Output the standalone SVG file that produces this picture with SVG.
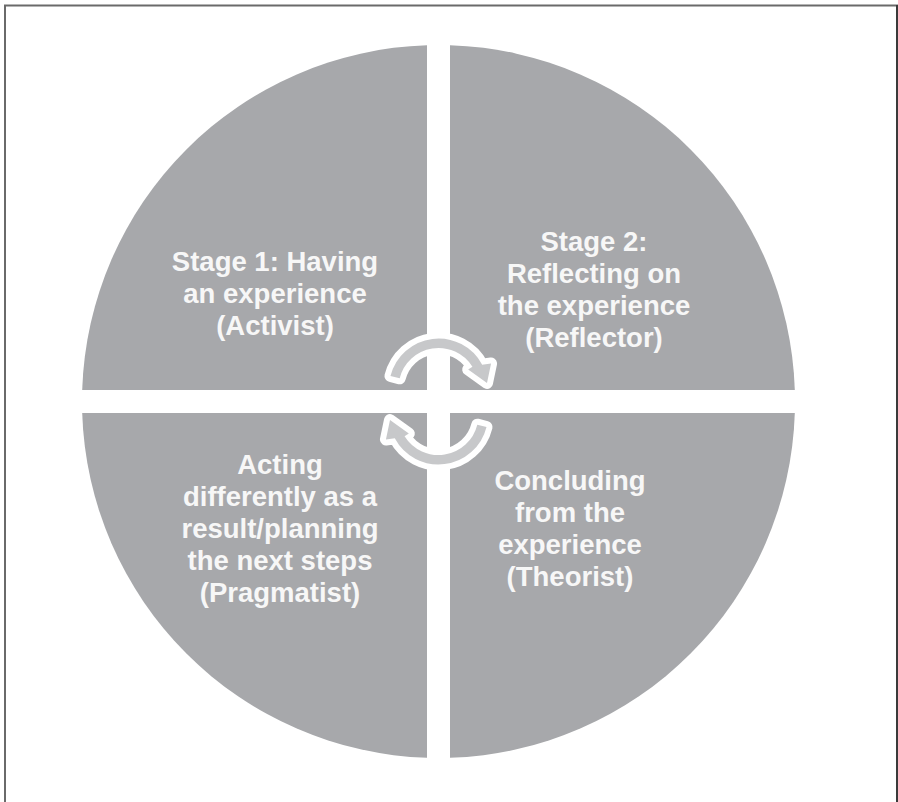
<svg xmlns="http://www.w3.org/2000/svg" width="898" height="802" viewBox="0 0 898 802">
  <style>
    .q { fill: #a7a8ab; }
    .t { font-family: "Liberation Sans", Arial, sans-serif; font-weight: bold; font-size: 27.5px; fill: #f7f7f7; text-anchor: middle; }
    .arr { fill: #c7c8ca; stroke: #ffffff; stroke-width: 12; stroke-linejoin: round; paint-order: stroke; }
  </style>
  <defs>
    <path id="cycleArrow" d="M 390.47,376.03 A 49.5 49.5 0 0 1 482.2,364.76 L 491.07,363.49 L 487,383 L 468.18,369.45 L 472.42,366.8 A 40 40 0 0 0 399.69,378.32 Z"/>
  </defs>
  <rect x="0" y="0" width="898" height="802" fill="#ffffff"/>
  <g id="frame">
    <line x1="4" y1="5.5" x2="898" y2="5.5" stroke="#6a6a6a" stroke-width="2"/>
    <line x1="5" y1="5" x2="5" y2="802" stroke="#6a6a6a" stroke-width="2"/>
    <line x1="897" y1="5" x2="897" y2="802" stroke="#3a3a3a" stroke-width="2"/>
  </g>
  <g id="stage1">
    <path class="q" d="M427,390 L82.19,390 A356.5,356.5 0 0 1 427,45.19 Z"/>
    <text class="t" x="275" y="271">Stage 1: Having</text>
    <text class="t" x="275" y="303">an experience</text>
    <text class="t" x="275" y="335">(Activist)</text>
  </g>
  <g id="stage2">
    <path class="q" d="M450,390 L450,45.19 A356.5,356.5 0 0 1 794.81,390 Z"/>
    <text class="t" x="594" y="251.25">Stage 2:</text>
    <text class="t" x="594" y="283.25">Reflecting on</text>
    <text class="t" x="594" y="315.25">the experience</text>
    <text class="t" x="594" y="347.25">(Reflector)</text>
  </g>
  <g id="stage3">
    <path class="q" d="M450,413 L794.81,413 A356.5,356.5 0 0 1 450,757.81 Z"/>
    <text class="t" x="570" y="489.5">Concluding</text>
    <text class="t" x="570" y="521.5">from the</text>
    <text class="t" x="570" y="553.5">experience</text>
    <text class="t" x="570" y="585.5">(Theorist)</text>
  </g>
  <g id="stage4">
    <path class="q" d="M427,413 L427,757.81 A356.5,356.5 0 0 1 82.19,413 Z"/>
    <text class="t" x="280" y="474">Acting</text>
    <text class="t" x="280" y="506">differently as a</text>
    <text class="t" x="280" y="538">result/planning</text>
    <text class="t" x="280" y="570">the next steps</text>
    <text class="t" x="280" y="602">(Pragmatist)</text>
  </g>
  <g id="connectors">
    <use href="#cycleArrow" class="arr"/>
    <use href="#cycleArrow" class="arr" transform="rotate(180 438.5 401.5)"/>
  </g>
</svg>
